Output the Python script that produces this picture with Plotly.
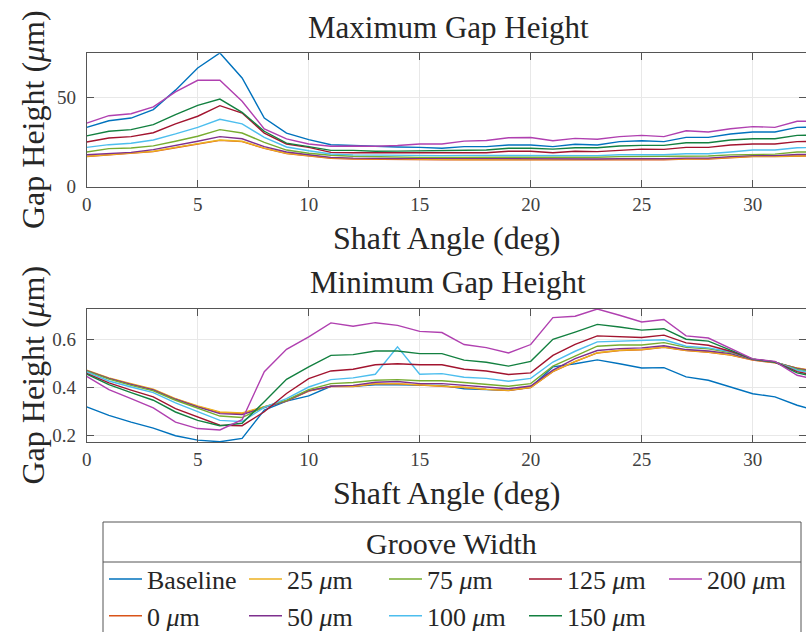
import plotly.graph_objects as go

angle = list(range(0, 34))

names = ["Baseline", "0 <i>μ</i>m", "25 <i>μ</i>m", "50 <i>μ</i>m", "75 <i>μ</i>m",
         "100 <i>μ</i>m", "125 <i>μ</i>m", "150 <i>μ</i>m", "200 <i>μ</i>m"]
colors = ["#0072BD", "#D95319", "#EDB120", "#7E2F8E", "#77AC30",
          "#4DBEEE", "#A2142F", "#138040", "#B040B0"]
legend_rank = [1, 6, 2, 7, 3, 8, 4, 9, 5]

# Maximum gap height (um)
max_baseline = [33.2, 36.9, 38.4, 43.1, 54.0, 66.4, 74.8, 60.8, 38.4, 30.0, 26.3, 23.5, 23.0, 22.5, 22.2, 22.0, 21.5,
                22.4, 22.4, 23.3, 23.3, 22.4, 23.7, 23.3, 25.2, 25.7, 25.2, 27.6, 27.6, 29.5, 30.6, 30.6, 33.2, 33.4]
max_0 = [16.8, 17.7, 18.5, 19.6, 21.8, 23.7, 25.9, 25.2, 21.4, 18.5, 17.1, 15.9, 15.5, 15.3, 15.2, 15.1, 15.1,
         15.0, 15.0, 15.1, 15.1, 14.8, 14.9, 14.8, 15.0, 15.1, 15.1, 15.4, 15.5, 16.2, 16.8, 16.8, 17.2, 17.3]
max_25 = [17.0, 17.9, 18.7, 19.8, 22.0, 23.9, 26.1, 25.4, 21.6, 18.7, 17.3, 16.1, 15.7, 15.5, 15.4, 15.3, 15.3,
          15.2, 15.2, 15.3, 15.3, 15.0, 15.1, 15.0, 15.2, 15.3, 15.3, 15.6, 15.7, 16.4, 17.0, 17.0, 17.4, 17.5]
max_50 = [17.9, 18.7, 19.2, 20.7, 22.9, 25.4, 28.0, 26.8, 22.4, 19.4, 17.9, 16.4, 16.0, 15.8, 15.8, 15.9, 15.8,
          15.7, 15.7, 15.8, 15.8, 15.5, 15.5, 15.5, 15.6, 15.5, 15.6, 16.0, 16.0, 16.8, 17.4, 17.4, 18.0, 18.0]
max_75 = [19.4, 21.3, 21.6, 22.8, 25.4, 28.2, 31.9, 30.0, 24.8, 20.5, 18.7, 17.6, 17.0, 16.7, 16.5, 16.4, 16.4,
          16.4, 16.4, 16.6, 16.6, 16.3, 16.5, 16.5, 16.8, 16.8, 16.8, 17.2, 17.2, 17.8, 18.2, 18.2, 19.4, 19.5]
max_100 = [22.0, 23.5, 24.3, 26.1, 29.5, 33.2, 37.7, 35.1, 27.6, 22.2, 20.1, 18.3, 17.8, 17.6, 17.5, 17.4, 17.4,
           17.5, 17.5, 17.6, 17.6, 17.2, 17.4, 17.4, 17.9, 17.9, 17.9, 18.4, 18.4, 19.4, 20.5, 20.5, 21.8, 22.0]
max_125 = [25.0, 27.2, 28.0, 30.2, 35.1, 39.4, 45.3, 41.2, 30.0, 23.9, 22.0, 19.2, 19.0, 19.0, 18.8, 18.7, 18.7,
           19.0, 19.0, 19.8, 19.8, 19.0, 19.8, 19.6, 20.5, 21.0, 20.9, 22.0, 22.0, 23.3, 23.9, 23.9, 25.2, 25.3]
max_150 = [28.4, 31.0, 31.9, 34.7, 40.3, 45.5, 49.0, 41.6, 31.0, 24.4, 22.4, 20.3, 20.3, 19.8, 19.9, 20.0, 20.0,
           20.5, 20.5, 21.5, 21.5, 21.0, 21.8, 21.8, 22.8, 23.1, 23.1, 24.6, 24.6, 26.1, 26.8, 26.8, 28.7, 28.8]
max_200 = [35.6, 39.7, 40.8, 44.6, 53.0, 59.5, 59.5, 47.8, 32.3, 26.7, 23.9, 22.6, 22.8, 22.6, 23.0, 23.9, 23.9,
           25.5, 25.8, 27.4, 27.5, 25.7, 27.0, 26.5, 28.0, 28.7, 28.0, 31.3, 30.6, 32.4, 33.6, 33.2, 36.6, 36.6]

# Minimum gap height (um)
min_baseline = [0.318, 0.283, 0.255, 0.230, 0.198, 0.180, 0.173, 0.187, 0.305, 0.342, 0.364, 0.404, 0.404, 0.410,
                0.410, 0.408, 0.408, 0.394, 0.392, 0.387, 0.400, 0.485, 0.498, 0.514, 0.498, 0.480, 0.482, 0.443,
                0.429, 0.401, 0.373, 0.360, 0.325, 0.300]
min_0 = [0.469, 0.437, 0.413, 0.390, 0.351, 0.320, 0.295, 0.291, 0.318, 0.342, 0.384, 0.403, 0.403, 0.414,
         0.414, 0.409, 0.407, 0.399, 0.391, 0.386, 0.399, 0.465, 0.507, 0.543, 0.553, 0.556, 0.566, 0.553,
         0.546, 0.534, 0.513, 0.502, 0.479, 0.464]
min_25 = [0.471, 0.439, 0.415, 0.392, 0.353, 0.322, 0.297, 0.293, 0.319, 0.343, 0.385, 0.404, 0.404, 0.415,
          0.415, 0.410, 0.408, 0.400, 0.392, 0.387, 0.400, 0.466, 0.508, 0.544, 0.554, 0.557, 0.567, 0.554,
          0.547, 0.535, 0.514, 0.503, 0.480, 0.465]
min_50 = [0.469, 0.437, 0.412, 0.389, 0.350, 0.318, 0.290, 0.286, 0.315, 0.343, 0.386, 0.404, 0.408, 0.421,
          0.424, 0.415, 0.415, 0.408, 0.400, 0.394, 0.405, 0.471, 0.519, 0.553, 0.561, 0.564, 0.573, 0.557,
          0.551, 0.540, 0.515, 0.504, 0.478, 0.462]
min_75 = [0.467, 0.434, 0.408, 0.385, 0.346, 0.313, 0.280, 0.274, 0.318, 0.346, 0.390, 0.415, 0.420, 0.429,
          0.432, 0.427, 0.427, 0.420, 0.412, 0.404, 0.415, 0.488, 0.530, 0.571, 0.576, 0.576, 0.586, 0.566,
          0.560, 0.545, 0.517, 0.505, 0.475, 0.460]
min_100 = [0.464, 0.426, 0.401, 0.378, 0.335, 0.300, 0.262, 0.257, 0.316, 0.353, 0.401, 0.432, 0.439, 0.454,
           0.568, 0.454, 0.457, 0.442, 0.437, 0.425, 0.437, 0.505, 0.550, 0.589, 0.592, 0.592, 0.598, 0.571,
           0.564, 0.548, 0.517, 0.506, 0.471, 0.455]
min_125 = [0.458, 0.418, 0.388, 0.360, 0.311, 0.276, 0.242, 0.240, 0.298, 0.374, 0.436, 0.468, 0.475, 0.494,
           0.498, 0.494, 0.494, 0.475, 0.468, 0.453, 0.460, 0.533, 0.579, 0.614, 0.610, 0.607, 0.617, 0.585,
           0.575, 0.550, 0.517, 0.506, 0.465, 0.445]
min_150 = [0.455, 0.411, 0.378, 0.346, 0.297, 0.262, 0.240, 0.250, 0.340, 0.433, 0.485, 0.533, 0.536, 0.551,
           0.551, 0.540, 0.540, 0.513, 0.504, 0.488, 0.508, 0.600, 0.630, 0.662, 0.651, 0.638, 0.644, 0.600,
           0.592, 0.555, 0.517, 0.505, 0.460, 0.440]
min_200 = [0.445, 0.390, 0.353, 0.314, 0.255, 0.228, 0.222, 0.265, 0.465, 0.558, 0.610, 0.668, 0.654, 0.669,
           0.658, 0.633, 0.628, 0.578, 0.565, 0.543, 0.578, 0.690, 0.696, 0.726, 0.700, 0.672, 0.682, 0.614,
           0.605, 0.560, 0.518, 0.508, 0.450, 0.430]

max_series = [max_baseline, max_0, max_25, max_50, max_75, max_100, max_125, max_150, max_200]
min_series = [min_baseline, min_0, min_25, min_50, min_75, min_100, min_125, min_150, min_200]

x_ticks = [0, 5, 10, 15, 20, 25, 30]
max_yticks = [0, 50]
min_yticks = [0.2, 0.4, 0.6]

W, H = 806, 632
FONT = "Liberation Serif"
AX = "#555555"
TXT = "#262626"

fig = go.Figure()
for i in range(len(names)):
    fig.add_trace(go.Scatter(x=angle, y=max_series[i], mode="lines", name=names[i],
                             line=dict(color=colors[i], width=1.4), legendrank=legend_rank[i],
                             showlegend=True, xaxis="x", yaxis="y"))
for i in range(len(names)):
    fig.add_trace(go.Scatter(x=angle, y=min_series[i], mode="lines", name=names[i],
                             line=dict(color=colors[i], width=1.4), showlegend=False,
                             xaxis="x2", yaxis="y2"))

def px_y(p):
    return 1 - p / H

xdom = [86.7 / W, 1.0]
axis_common = dict(showline=True, mirror="ticks", linecolor=AX, linewidth=1,
                   ticks="inside", ticklen=7, tickcolor=AX, showgrid=True,
                   gridcolor="#e8e8e8", gridwidth=1, zeroline=False,
                   tickfont=dict(family=FONT, size=19, color="#404040"))

fig.update_layout(
    width=W, height=H, margin=dict(l=0, r=0, t=0, b=0, autoexpand=False),
    paper_bgcolor="white", plot_bgcolor="white",
    showlegend=True,
    xaxis=dict(domain=xdom, range=[0, 32.4], tickvals=x_ticks, anchor="y", **axis_common),
    yaxis=dict(domain=[px_y(186.7), px_y(53.3)], range=[0, 74.6], tickvals=max_yticks, anchor="x",
               ticklabelstandoff=6, **axis_common),
    xaxis2=dict(domain=xdom, range=[0, 32.4], tickvals=x_ticks, anchor="y2", **axis_common),
    yaxis2=dict(domain=[px_y(442), px_y(309)], range=[0.172, 0.726], tickvals=min_yticks, anchor="x2",
                ticklabelstandoff=6, **axis_common),
    legend=dict(orientation="h", x=104 / W, y=-0.012, xanchor="left", yanchor="bottom",
                borderwidth=0, bgcolor="rgba(0,0,0,0)",
                font=dict(family=FONT, size=26, color=TXT),
                entrywidth=92, itemwidth=33, tracegroupgap=0),
)

# legend frame, title and separator
fig.add_shape(type="rect", xref="paper", yref="paper", x0=103 / W, x1=801 / W, y0=-0.1, y1=px_y(522),
              line=dict(color=AX, width=1), fillcolor="white", layer="below")
fig.add_shape(type="line", xref="paper", yref="paper", x0=103 / W, x1=801 / W, y0=px_y(562), y1=px_y(562),
              line=dict(color=AX, width=1))
fig.add_annotation(text="Groove Width", x=452 / W, y=px_y(543), xref="paper", yref="paper",
                   showarrow=False, xanchor="center", yanchor="middle",
                   font=dict(family=FONT, size=30, color=TXT))

ann = []
ann.append(dict(text="Maximum Gap Height", x=448 / W, y=px_y(27), size=31))
ann.append(dict(text="Minimum Gap Height", x=448 / W, y=px_y(283), size=31))
ann.append(dict(text="Shaft Angle (deg)", x=447 / W, y=px_y(238), size=32))
ann.append(dict(text="Shaft Angle (deg)", x=447 / W, y=px_y(493), size=32))
for a in ann:
    s = a.pop("size")
    a.update(xref="paper", yref="paper", showarrow=False, xanchor="center", yanchor="middle",
             font=dict(family=FONT, size=s, color=TXT))
    fig.add_annotation(**a)
for yc in [120, 375.5]:
    fig.add_annotation(text="Gap Height (<i>μ</i>m)", x=33 / W, y=px_y(yc), xref="paper", yref="paper",
                       showarrow=False, textangle=-90, xanchor="center", yanchor="middle",
                       font=dict(family=FONT, size=32, color=TXT))

fig.write_html("out.html")
